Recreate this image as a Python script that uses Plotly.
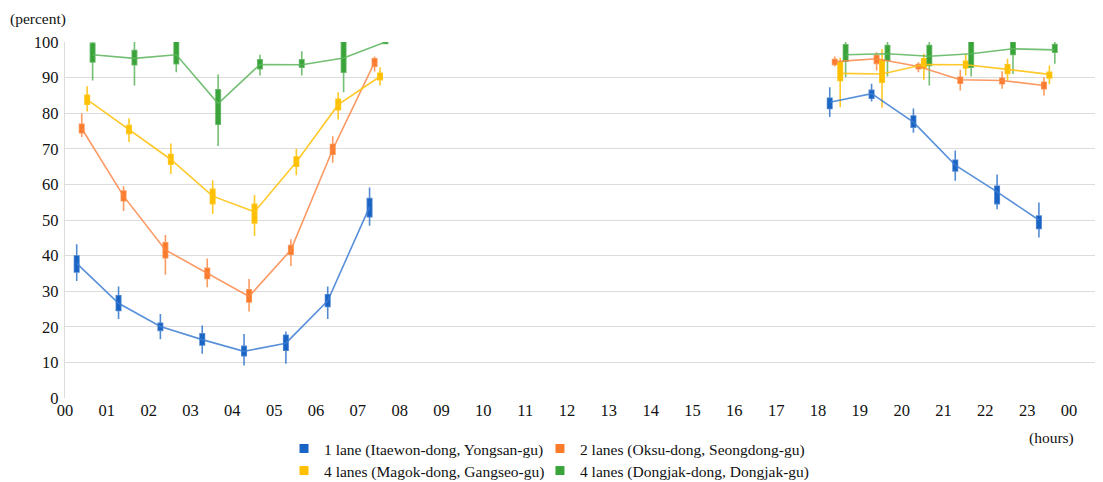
import plotly.graph_objects as go

# ---- data ----
hours = [0, 1, 2, 3, 4, 5, 6, 7, 18, 19, 20, 21, 22, 23]
tick_vals = list(range(0, 25))
tick_text = ["%02d" % (h % 24) for h in tick_vals]

series_names = [
    "1 lane (Itaewon-dong, Yongsan-gu)",
    "2 lanes (Oksu-dong, Seongdong-gu)",
    "4 lanes (Magok-dong, Gangseo-gu)",
    "4 lanes (Dongjak-dong, Dongjak-gu)",
]

blue_mean = [37.8, 26.6, 20.1, 16.4, 13.1, 15.4, 27.3, 53.7, 83.1, 85.5, 77.5, 65.4, 57.9, 50.0]
blue_q1 = [35.4, 24.6, 19.0, 14.9, 11.9, 13.4, 25.7, 50.9, 81.3, 84.2, 76.1, 63.8, 54.6, 47.6]
blue_q3 = [39.9, 28.7, 21.0, 18.0, 14.5, 17.6, 29.0, 56.0, 84.2, 86.4, 79.2, 66.8, 59.5, 51.1]
blue_lo = [32.9, 22.2, 16.5, 12.4, 9.1, 9.6, 22.2, 48.4, 78.9, 83.3, 74.5, 61.0, 53.0, 45.1]
blue_hi = [43.2, 31.3, 23.6, 20.4, 18.0, 18.7, 31.3, 59.1, 87.3, 88.3, 81.3, 69.5, 62.8, 54.9]

orange_mean = [75.7, 56.7, 41.6, 35.0, 28.5, 41.6, 69.8, 94.3, 94.5, 95.3, 93.1, 89.4, 89.2, 87.8]
orange_q1 = [74.5, 55.4, 39.4, 33.6, 27.0, 40.4, 68.5, 93.2, 93.7, 94.0, 92.5, 88.4, 88.3, 86.9]
orange_q3 = [76.9, 58.1, 43.6, 36.4, 30.4, 42.8, 71.2, 95.3, 95.1, 96.2, 93.7, 90.1, 89.8, 88.7]
orange_lo = [73.3, 52.5, 34.6, 31.1, 24.3, 37.1, 66.1, 91.7, 93.1, 92.0, 91.5, 86.4, 86.9, 85.0]
orange_hi = [79.9, 59.5, 45.8, 39.2, 33.4, 44.6, 73.5, 95.9, 95.9, 97.1, 94.3, 92.2, 91.8, 90.1]

yellow_mean = [83.8, 75.4, 67.0, 56.7, 52.3, 66.3, 82.4, 90.3, 91.2, 91.0, 93.7, 93.6, 92.3, 90.9]
yellow_q1 = [82.5, 74.3, 65.7, 54.6, 49.2, 65.1, 81.0, 89.4, 89.2, 88.7, 92.7, 92.7, 91.2, 89.9]
yellow_q3 = [85.0, 76.5, 68.4, 58.6, 54.4, 67.7, 83.9, 91.2, 94.3, 94.8, 95.3, 94.6, 93.6, 91.5]
yellow_lo = [80.5, 71.9, 62.9, 51.7, 45.5, 62.6, 78.2, 87.8, 81.7, 81.5, 89.4, 90.6, 89.2, 88.1]
yellow_hi = [87.6, 78.6, 71.5, 61.2, 57.0, 70.0, 85.9, 92.9, 95.6, 98.0, 96.7, 96.5, 95.3, 93.4]

green_mean = [96.4, 95.4, 96.4, 82.7, 93.7, 93.6, 95.5, 100.0, 96.4, 96.7, 96.0, 96.7, 98.1, 97.8]
green_q1 = [94.4, 93.6, 93.9, 76.9, 92.5, 92.9, 91.5, 99.6, 94.6, 94.8, 93.4, 92.9, 96.5, 97.1]
green_q3 = [99.6, 97.6, 100.0, 86.6, 95.0, 95.0, 100.0, 100.0, 99.2, 99.0, 99.0, 100.0, 99.9, 99.3]
green_lo = [89.2, 87.8, 91.5, 70.8, 90.6, 90.6, 85.9, 99.4, 90.1, 90.3, 87.8, 90.3, 91.0, 93.9]
green_hi = [100.0, 100.0, 100.0, 90.9, 96.4, 97.4, 100.0, 100.0, 100.0, 100.0, 100.0, 100.0, 100.0, 100.0]

# ---- styling ----
colors = ["#1a64c4", "#fb7b2c", "#ffc000", "#3aa43a"]
line_colors = ["rgba(60,125,210,0.85)", "rgba(251,135,70,0.85)", "rgba(255,195,20,0.9)", "rgba(90,180,90,0.85)"]
whisk_colors = ["rgba(26,100,196,0.75)", "rgba(251,123,44,0.75)", "rgba(255,192,0,0.85)", "rgba(58,164,58,0.7)"]
offsets = [0.28, 0.40, 0.53, 0.66]
legend_ids = ["legend", "legend2", "legend3", "legend4"]
legend_pos = [(0.2116, -0.143), (0.4589, -0.143), (0.2116, -0.205), (0.4589, -0.205)]

data = [
    (blue_mean, blue_q1, blue_q3, blue_lo, blue_hi),
    (orange_mean, orange_q1, orange_q3, orange_lo, orange_hi),
    (yellow_mean, yellow_q1, yellow_q3, yellow_lo, yellow_hi),
    (green_mean, green_q1, green_q3, green_lo, green_hi),
]

FONT = "Liberation Serif, Times New Roman, serif"
TXT = "#111"

fig = go.Figure()

for i, (mean, q1, q3, lo, hi) in enumerate(data):
    xs = [h + offsets[i] for h in hours]
    lx, ly = [], []
    for j, (x, m) in enumerate(zip(xs, mean)):
        if j > 0 and hours[j] - hours[j - 1] > 1:
            lx.append(None)
            ly.append(None)
        lx.append(x)
        ly.append(m)
    fig.add_trace(go.Scatter(
        x=lx, y=ly, mode="lines",
        line=dict(color=line_colors[i], width=1.6),
        showlegend=False, hoverinfo="skip",
    ))
    fig.add_trace(go.Box(
        x=xs, q1=q1, median=mean, q3=q3, lowerfence=lo, upperfence=hi,
        width=0.105, whiskerwidth=0,
        fillcolor=colors[i],
        line=dict(color=whisk_colors[i], width=1.6),
        showlegend=False, hoverinfo="skip",
    ))

for i, name in enumerate(series_names):
    fig.add_trace(go.Scatter(
        x=[None], y=[None], mode="markers", name=name,
        marker=dict(symbol="square", size=9, color=colors[i]),
        legend=legend_ids[i],
    ))

legend_common = dict(
    orientation="h", xanchor="left", yanchor="middle",
    font=dict(family=FONT, size=15.5, color=TXT),
    itemwidth=30, tracegroupgap=0, bgcolor="rgba(0,0,0,0)",
)
legend_layout = {
    lid: dict(x=px, y=py, **legend_common)
    for lid, (px, py) in zip(legend_ids, legend_pos)
}

fig.update_layout(
    width=1095, height=474,
    margin=dict(l=57, r=3, t=34, b=84, autoexpand=False),
    paper_bgcolor="white", plot_bgcolor="white",
    font=dict(family=FONT, size=16, color=TXT),
    xaxis=dict(
        range=[0, 24.74], tickmode="array", tickvals=tick_vals, ticktext=tick_text,
        showgrid=False, zeroline=False, showline=False, ticks="",
        tickfont=dict(family=FONT, size=16.5, color=TXT), automargin=False,
        ticklabelstandoff=0,
    ),
    yaxis=dict(
        range=[0, 100], dtick=10, tick0=0,
        showgrid=True, gridcolor="#dcdcdc", gridwidth=1.3,
        zeroline=False, showline=True, linecolor="#dcdcdc", linewidth=1.3,
        ticks="", tickfont=dict(family=FONT, size=16.5, color=TXT), automargin=False,
        ticklabelstandoff=2,
    ),
    boxmode="overlay",
    annotations=[
        dict(text="(percent)", xref="paper", yref="paper", x=-0.026, y=1.065,
             xanchor="center", yanchor="middle", showarrow=False,
             font=dict(family=FONT, size=15.5, color=TXT)),
        dict(text="(hours)", xref="paper", yref="paper", x=0.9536, y=-0.112,
             xanchor="center", yanchor="middle", showarrow=False,
             font=dict(family=FONT, size=15.5, color=TXT)),
    ],
    **legend_layout,
)

fig.write_html("out.html")
